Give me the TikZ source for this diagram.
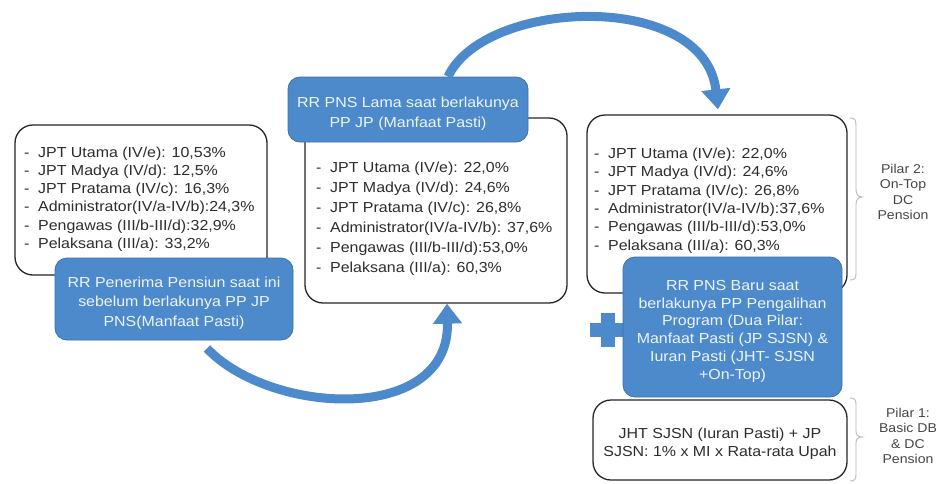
\documentclass[tikz,border=0pt]{standalone}
\usepackage{fontspec}
\setmainfont{Liberation Sans}[FakeStretch=1.1]
\usetikzlibrary{arrows.meta,calc}
\definecolor{bfill}{RGB}{77,138,204}
\definecolor{bdraw}{RGB}{62,112,172}
\definecolor{txt}{RGB}{45,45,45}
\definecolor{brc}{RGB}{185,185,185}
\definecolor{lbl}{RGB}{70,70,70}
\definecolor{btxt}{RGB}{238,244,251}
\newcommand{\li}[1]{\makebox[14pt][l]{-}#1}
\newcommand{\tstrut}{\rule{0pt}{18.5pt}}
\tikzset{
 whitebox/.style={draw=black!85, line width=1.3pt, fill=white, rounded corners=18pt, inner sep=0pt},
 bluebox/.style={draw=bdraw, line width=0.8pt, fill=bfill, rounded corners=12pt, text=btxt, align=center, inner sep=0pt},
 listtext/.style={text=txt, align=left, inner sep=0pt, anchor=north west},
 bigarrow/.style={draw=bfill, line width=9pt, -{Triangle[length=20pt,width=28pt]}},
 bracepath/.style={draw=brc, line width=0.9pt},
 pilar/.style={text=lbl, align=center, inner sep=0pt, font=\fontsize{12.8}{15.3}\selectfont},
}
\begin{document}
\begin{tikzpicture}[x=1pt,y=-1pt]
\useasboundingbox (0,0) rectangle (938,483);

% left group
\node[whitebox, minimum width=252pt, minimum height=150pt] (lwhite) at (141,200) {};
\node[listtext, font=\fontsize{14.5}{18.2}\selectfont] (ltext) at (24,146.6)
 {\li{JPT Utama (IV/e): 10,53\%}\\\li{JPT Madya (IV/d): 12,5\%}\\\li{JPT Pratama (IV/c): 16,3\%}\\\li{Administrator(IV/a-IV/b):24,3\%}\\\li{Pengawas (III/b-III/d):32,9\%}\\\li{Pelaksana (III/a): 33,2\%}};
\node[bluebox, minimum width=238pt, minimum height=82pt, font=\fontsize{14.5}{19.5}\selectfont] (lblue) at (174,299)
 {\tstrut RR Penerima Pensiun saat ini\\sebelum berlakunya PP JP\\PNS(Manfaat Pasti)};

% middle group
\node[whitebox, minimum width=262pt, minimum height=185pt] (mwhite) at (436,210.5) {};
\node[listtext, font=\fontsize{14.5}{20}\selectfont] (mtext) at (316,161.6)
 {\li{JPT Utama (IV/e): 22,0\%}\\\li{JPT Madya (IV/d): 24,6\%}\\\li{JPT Pratama (IV/c): 26,8\%}\\\li{Administrator(IV/a-IV/b): 37,6\%}\\\li{Pengawas (III/b-III/d):53,0\%}\\\li{Pelaksana (III/a): 60,3\%}};
\node[bluebox, minimum width=240pt, minimum height=65pt, font=\fontsize{14.5}{20}\selectfont] (mblue) at (408,109.5)
 {\tstrut RR PNS Lama saat berlakunya\\PP JP (Manfaat Pasti)};

% right group
\node[whitebox, minimum width=260pt, minimum height=178pt] (rwhite) at (717,204) {};
\node[listtext, font=\fontsize{14.5}{18.4}\selectfont] (rtext) at (594,147.6)
 {\li{JPT Utama (IV/e): 22,0\%}\\\li{JPT Madya (IV/d): 24,6\%}\\\li{JPT Pratama (IV/c): 26,8\%}\\\li{Administrator(IV/a-IV/b):37,6\%}\\\li{Pengawas (III/b-III/d):53,0\%}\\\li{Pelaksana (III/a): 60,3\%}};
\node[whitebox, minimum width=254pt, minimum height=80pt, text=txt, align=center, font=\fontsize{14.5}{18}\selectfont] (bwhite) at (720,440)
 {\tstrut JHT SJSN (Iuran Pasti) + JP\\SJSN: 1\% x MI x Rata-rata Upah};
\fill[bfill] (590,323) rectangle (624,337);
\fill[bfill] (601,313) rectangle (615,347);
\node[bluebox, minimum width=219pt, minimum height=140pt, font=\fontsize{14.5}{17.8}\selectfont] (rblue) at (732.5,327)
 {\tstrut RR PNS Baru saat\\berlakunya PP Pengalihan\\Program (Dua Pilar:\\Manfaat Pasti (JP SJSN) \&\\Iuran Pasti (JHT- SJSN\\+On-Top)};

% braces
\draw[bracepath] (850,118) .. controls (855,118) and (856,120) .. (856,126) -- (856,189) .. controls (856,194) and (858,197) .. (862,197) .. controls (858,197) and (856,200) .. (856,205) -- (856,273) .. controls (856,278) and (855,280) .. (850,280);
\draw[bracepath] (850,398) .. controls (855,398) and (856,400) .. (856,405) -- (856,431) .. controls (856,435) and (858,437) .. (862,437) .. controls (858,437) and (856,439) .. (856,443) -- (856,474) .. controls (856,479) and (855,481) .. (850,481);
\node[pilar] (p2) at (903,192) {Pilar 2:\\On-Top\\DC\\Pension};
\node[pilar] (p1) at (908,436) {Pilar 1:\\Basic DB\\\& DC\\Pension};

% arrows
\coordinate (a1s) at ($(lblue.south)+(33,8)$);
\draw[bigarrow] (a1s) .. controls (270,415) and (450,425) .. ($(mwhite.south)+(11,0)$);
\draw[bigarrow] ($(mblue.north)+(40,0)$) .. controls (485,-2) and (705,-10) .. ($(rwhite.north)+(1,-5)$);
\end{tikzpicture}
\end{document}
